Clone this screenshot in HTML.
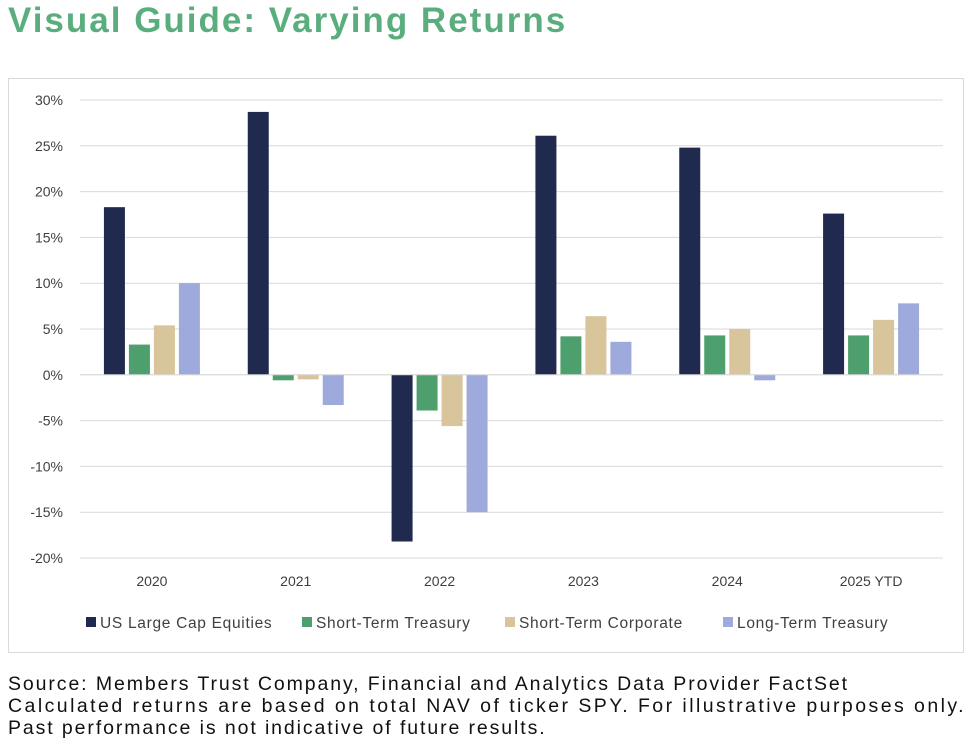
<!DOCTYPE html>
<html><head><meta charset="utf-8"><style>
body{margin:0;width:978px;height:748px;background:#fff;font-family:"Liberation Sans",sans-serif;overflow:hidden;position:relative}
#title{position:absolute;left:8px;top:1px;font-size:35px;font-weight:bold;color:#5aae7e;letter-spacing:2px}
#box{position:absolute;left:8px;top:78px;width:956px;height:575px;border:1px solid #d9d9d9;box-sizing:border-box}
.foot{position:absolute;left:8px;font-size:19.5px;color:#111;white-space:nowrap;letter-spacing:1.9px}
</style></head><body>
<div id="title">Visual Guide: Varying Returns</div>
<div id="box"></div>
<svg id="chart" width="978" height="748" style="position:absolute;left:0;top:0"></svg>
<div class="foot" style="top:673px">Source: Members Trust Company, Financial and Analytics Data Provider FactSet</div>
<div class="foot" style="top:695px;letter-spacing:2.45px">Calculated returns are based on total NAV of ticker SPY. For illustrative purposes only.</div>
<div class="foot" style="top:717px">Past performance is not indicative of future results.</div>
<script>
const categories=["2020","2021","2022","2023","2024","2025 YTD"];
const seriesNames=["US Large Cap Equities","Short-Term Treasury","Short-Term Corporate","Long-Term Treasury"];
const equities=[18.3,28.7,-18.2,26.1,24.8,17.6];
const stTreasury=[3.3,-0.6,-3.9,4.2,4.3,4.3];
const stCorporate=[5.4,-0.5,-5.6,6.4,5.0,6.0];
const ltTreasury=[10.0,-3.3,-15.0,3.6,-0.6,7.8];
const yTicks=[30,25,20,15,10,5,0,-5,-10,-15,-20];
const colors=["#1f2a4e","#4e9f6e","#d8c59c","#9daadb"];
const series=[equities,stTreasury,stCorporate,ltTreasury];
const NS="http://www.w3.org/2000/svg";
const svg=document.getElementById('chart');
const x0=80,x1=943,yTop=100,yBot=558,vMax=30,vMin=-20;
const y=v=>yTop+(vMax-v)/(vMax-vMin)*(yBot-yTop);
const gw=(x1-x0)/categories.length;
const xc=i=>x0+gw*(i+0.5);
function mk(t,a){const e=document.createElementNS(NS,t);for(const k in a)e.setAttribute(k,a[k]);svg.appendChild(e);return e;}
yTicks.forEach(t=>{
 const l=mk('line',{x1:x0,x2:x1,y1:y(t),y2:y(t),stroke:'#d9d9d9','stroke-width':1});
 
 
 const tx=mk('text',{x:63,y:y(t)+5,'text-anchor':'end','font-size':14,fill:'#404040','font-family':'Liberation Sans, sans-serif'});
 tx.textContent=t+'%';
 
 
});
const bw=21,gap=4;
categories.forEach((c,i)=>{
 const start=xc(i)-(4*bw+3*gap)/2;
 series.forEach((s,j)=>{
  const v=s[i];
  const r=mk('rect',{x:start+j*(bw+gap),y:Math.min(y(v),y(0)),width:bw,height:Math.abs(y(v)-y(0)),fill:colors[j]});
  
  
 });
 const tx=mk('text',{x:xc(i),y:586,'text-anchor':'middle','font-size':14,fill:'#404040','font-family':'Liberation Sans, sans-serif'});
 tx.textContent=c;
 
 
});
const zl=mk('line',{x1:x0,x2:x1,y1:y(0),y2:y(0),stroke:'#d9d9d9','stroke-width':1});


const lx=[86,302,505,723];
seriesNames.forEach((n,j)=>{
 const r=mk('rect',{x:lx[j],y:617,width:10,height:10,fill:colors[j]});
 
 
 const t=mk('text',{x:lx[j]+14,y:628,'font-size':15.5,'letter-spacing':0.7,fill:'#404040','font-family':'Liberation Sans, sans-serif'});
 t.textContent=n;
 
 
});
</script>
</body></html>
